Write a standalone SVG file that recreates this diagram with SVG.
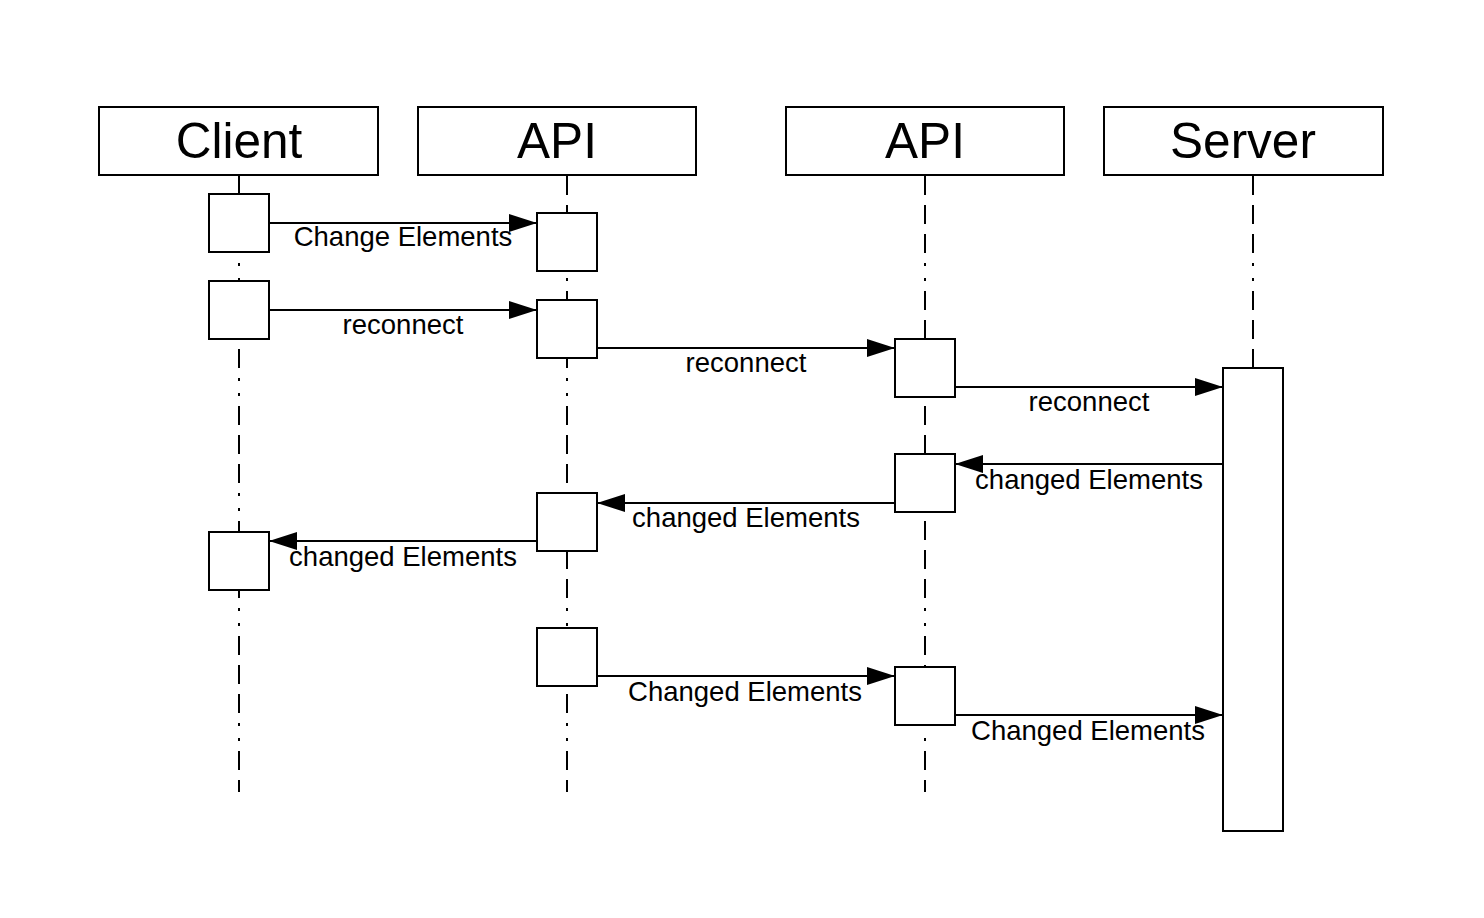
<svg xmlns="http://www.w3.org/2000/svg" width="1484" height="918" viewBox="0 0 1484 918">
<style>
.head{fill:#fff;stroke:#000;stroke-width:2}
.htxt{font-family:"Liberation Sans",Arial,sans-serif;font-size:49.5px;fill:#000;text-anchor:middle}
.life{stroke:#000;stroke-width:2;fill:none;stroke-dasharray:19 10 19 10 19 10 3 12 3 10}
.act{fill:#fff;stroke:#000;stroke-width:2}
.msg{stroke:#000;stroke-width:2;fill:none}
.lbl{font-family:"Liberation Sans",Arial,sans-serif;font-size:27.5px;fill:#000;text-anchor:middle}
</style>
<defs>
<marker id="arr" viewBox="0 0 28 18" refX="28" refY="9" markerWidth="28" markerHeight="18" markerUnits="userSpaceOnUse" orient="auto">
<path d="M0,0 L28,9 L0,18 Z" fill="#000"/>
</marker>
</defs>
<rect width="1484" height="918" fill="#fff"/>
<g id="lifelines">
<line class="life" x1="239" y1="176" x2="239" y2="792"/>
<line class="life" x1="567" y1="176" x2="567" y2="792"/>
<line class="life" x1="925" y1="176" x2="925" y2="792"/>
<line class="life" x1="1253" y1="176" x2="1253" y2="368"/>
</g>
<g id="client">
<rect class="head" x="99" y="107" width="279" height="68"/>
<text class="htxt" x="239" y="158">Client</text>
</g>
<g id="api1">
<rect class="head" x="418" y="107" width="278" height="68"/>
<text class="htxt" x="557" y="158">API</text>
</g>
<g id="api2">
<rect class="head" x="786" y="107" width="278" height="68"/>
<text class="htxt" x="925" y="158">API</text>
</g>
<g id="server">
<rect class="head" x="1104" y="107" width="279" height="68"/>
<text class="htxt" x="1243" y="158">Server</text>
</g>
<g id="activations">
<rect class="act" x="209" y="194" width="60" height="58"/>
<rect class="act" x="209" y="281" width="60" height="58"/>
<rect class="act" x="209" y="532" width="60" height="58"/>
<rect class="act" x="537" y="213" width="60" height="58"/>
<rect class="act" x="537" y="300" width="60" height="58"/>
<rect class="act" x="537" y="493" width="60" height="58"/>
<rect class="act" x="537" y="628" width="60" height="58"/>
<rect class="act" x="895" y="339" width="60" height="58"/>
<rect class="act" x="895" y="454" width="60" height="58"/>
<rect class="act" x="895" y="667" width="60" height="58"/>
<rect class="act" x="1223" y="368" width="60" height="463"/>
</g>
<g id="connectors">
<line class="msg" x1="269" y1="223" x2="537" y2="223" marker-end="url(#arr)"/>
<line class="msg" x1="269" y1="310" x2="537" y2="310" marker-end="url(#arr)"/>
<line class="msg" x1="597" y1="348" x2="895" y2="348" marker-end="url(#arr)"/>
<line class="msg" x1="955" y1="387" x2="1223" y2="387" marker-end="url(#arr)"/>
<line class="msg" x1="1223" y1="464" x2="955" y2="464" marker-end="url(#arr)"/>
<line class="msg" x1="895" y1="503" x2="597" y2="503" marker-end="url(#arr)"/>
<line class="msg" x1="537" y1="541" x2="269" y2="541" marker-end="url(#arr)"/>
<line class="msg" x1="597" y1="676" x2="895" y2="676" marker-end="url(#arr)"/>
<line class="msg" x1="955" y1="715" x2="1223" y2="715" marker-end="url(#arr)"/>
</g>
<g id="labels">
<text class="lbl" x="403" y="246">Change Elements</text>
<text class="lbl" x="403" y="334">reconnect</text>
<text class="lbl" x="746" y="372">reconnect</text>
<text class="lbl" x="1089" y="411">reconnect</text>
<text class="lbl" x="1089" y="489">changed Elements</text>
<text class="lbl" x="746" y="527">changed Elements</text>
<text class="lbl" x="403" y="566">changed Elements</text>
<text class="lbl" x="745" y="701">Changed Elements</text>
<text class="lbl" x="1088" y="740">Changed Elements</text>
</g>
</svg>
